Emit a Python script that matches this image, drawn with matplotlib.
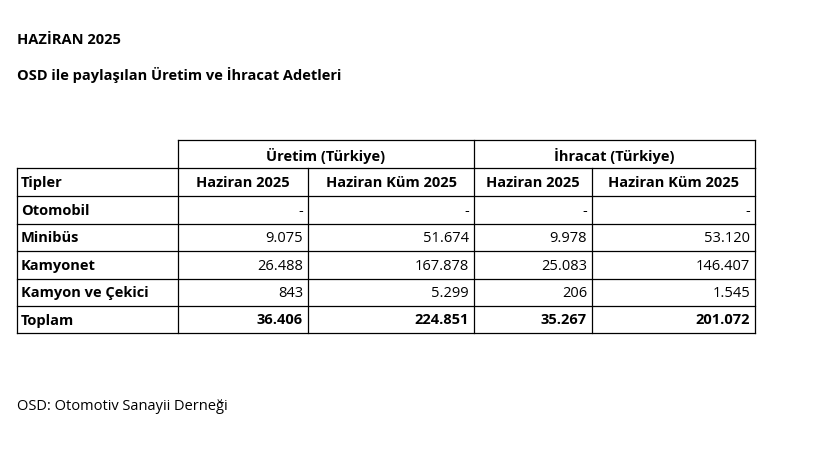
import matplotlib.pyplot as plt

plt.rcParams['font.family'] = ['Open Sans', 'DejaVu Sans']

title = "HAZİRAN 2025"
subtitle = "OSD ile paylaşılan Üretim ve İhracat Adetleri"
footer = "OSD: Otomotiv Sanayii Derneği"

groups = ["Üretim (Türkiye)", "İhracat (Türkiye)"]
columns = ["Haziran 2025", "Haziran Küm 2025", "Haziran 2025", "Haziran Küm 2025"]
types = ["Otomobil", "Minibüs", "Kamyonet", "Kamyon ve Çekici"]
uretim_ay = [None, 9075, 26488, 843]
uretim_kum = [None, 51674, 167878, 5299]
ihracat_ay = [None, 9978, 25083, 206]
ihracat_kum = [None, 53120, 146407, 1545]
totals = [36406, 224851, 35267, 201072]


def fmt(v):
    if v is None:
        return "-"
    return f"{v:,}".replace(",", ".")


fig = plt.figure(figsize=(8.18, 4.49), dpi=100)
ax = fig.add_axes([0, 0, 1, 1])
ax.set_xlim(0, 818)
ax.set_ylim(449, 0)
ax.axis('off')

fs = 10.5
ax.text(17, 40, title, fontsize=fs, fontweight='bold', va='center')
ax.text(17, 75, subtitle, fontsize=fs, fontweight='bold', va='center')
ax.text(17, 407, footer, fontsize=fs, va='center')

xs = [17, 178, 308, 474, 592, 755]
ys = [140, 168, 196, 224, 251, 279, 306, 333]
lw = 0.9
k = 'black'

# header group row
ax.plot([178, 755], [ys[0], ys[0]], color=k, lw=lw)
for x in [178, 474, 755]:
    ax.plot([x, x], [ys[0], ys[1]], color=k, lw=lw)
for i, g in enumerate(groups):
    cx = (xs[1 + 2 * i] + xs[3 + 2 * i]) / 2
    ax.text(cx, (ys[0] + ys[1]) / 2 + 2, g, fontsize=fs, fontweight='bold', ha='center', va='center')

# grid
for y in ys[1:]:
    ax.plot([xs[0], xs[-1]], [y, y], color=k, lw=lw)
for x in xs:
    ax.plot([x, x], [ys[1], ys[-1]], color=k, lw=lw)

def row(y0, y1, label, vals, bold):
    cy = (y0 + y1) / 2 + 1
    w = 'bold' if bold else 'normal'
    ax.text(xs[0] + 4, cy, label, fontsize=fs, fontweight='bold', va='center')
    for j, v in enumerate(vals):
        ax.text(xs[j + 2] - 5, cy, fmt(v), fontsize=fs, fontweight=w, ha='right', va='center')

# column headers
cy = (ys[1] + ys[2]) / 2 + 1
ax.text(xs[0] + 4, cy, "Tipler", fontsize=fs, fontweight='bold', va='center')
for j, c in enumerate(columns):
    ax.text((xs[j + 1] + xs[j + 2]) / 2, cy, c, fontsize=fs, fontweight='bold', ha='center', va='center')

for i, t in enumerate(types):
    row(ys[2 + i], ys[3 + i], t, [uretim_ay[i], uretim_kum[i], ihracat_ay[i], ihracat_kum[i]], False)
row(ys[6], ys[7], "Toplam", totals, True)

fig.savefig("out.png", dpi=100)
